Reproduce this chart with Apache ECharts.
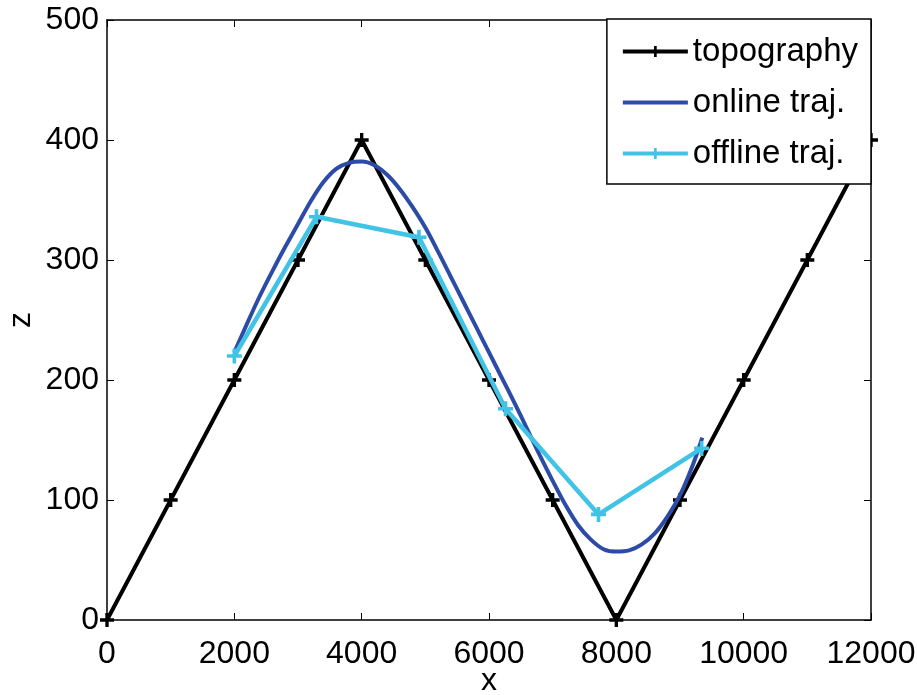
<!DOCTYPE html>
<html>
<head>
<meta charset="utf-8">
<script src="https://cdn.jsdelivr.net/npm/echarts@6/dist/echarts.min.js"></script>
<style>
  html, body { margin: 0; padding: 0; background: #fff; }
  #chart { width: 917px; height: 695px; }
</style>
</head>
<body>
<div id="chart"></div>
<script>
// topography: piecewise linear ridge
var topoX = [0, 1000, 2000, 3000, 4000, 5000, 6000, 7000, 8000, 9000, 10000, 11000, 12000];
var topoZ = [0, 100, 200, 300, 400, 300, 200, 100, 0, 100, 200, 300, 400];

// online trajectory (smooth curve)
var onlineX = [2000, 2200, 2400, 2600, 2800, 3000, 3200, 3400, 3600, 3800, 4000, 4200, 4400, 4600, 4800, 5000,
  5200, 5400, 5600, 5800, 6000, 6200, 6400, 6600, 6800, 7000, 7200, 7400, 7600, 7800, 8000, 8200, 8400, 8600,
  8800, 9000, 9200, 9350];
var onlineZ = [223, 247, 270, 291, 311, 330, 349, 365, 376, 381, 382, 379, 371, 359, 344, 327,
  307, 286, 265, 244, 223, 202, 181, 159, 137, 116, 96, 79, 67, 59, 57, 58, 63, 72,
  86, 104, 129, 152];

// offline trajectory
var offlineX = [2000, 3290, 4900, 6260, 7720, 9340];
var offlineZ = [220, 336, 319, 176, 88, 143];

function pairs(xs, ys) {
  return xs.map(function (x, i) { return [x, ys[i]]; });
}

var plus = 'path://M3.8,0 L6.2,0 L6.2,3.8 L10,3.8 L10,6.2 L6.2,6.2 L6.2,10 L3.8,10 L3.8,6.2 L0,6.2 L0,3.8 L3.8,3.8 Z';
var font = '"Liberation Sans", Arial, sans-serif';

var chart = echarts.init(document.getElementById('chart'));

var baseAxis = {
  axisLine: { show: true, onZero: false, lineStyle: { color: '#000', width: 1.5 } },
  axisTick: { show: true, inside: true, length: 7, lineStyle: { color: '#000', width: 1 } },
  splitLine: { show: false }
};

var option = {
  backgroundColor: '#fff',
  animation: false,
  grid: { left: 107, right: 46, top: 20, bottom: 75, containLabel: false, outerBoundsMode: 'none' },
  legend: {
    right: 46,
    top: 19,
    orient: 'vertical',
    backgroundColor: '#fff',
    borderColor: '#000',
    borderWidth: 1.5,
    borderRadius: 0,
    padding: [16, 13, 14, 14],
    itemGap: 18,
    itemWidth: 65,
    itemHeight: 14,
    lineStyle: { width: 4 },
    textStyle: { fontFamily: font, fontSize: 33, color: '#000' },
    data: [
      'topography',
      { name: 'online traj.', icon: 'path://M0,0 L100,0 L100,6 L0,6 Z' },
      'offline traj.'
    ]
  },
  xAxis: [
    Object.assign({}, baseAxis, {
      type: 'value', min: 0, max: 12000, interval: 2000,
      name: 'x', nameLocation: 'middle', nameGap: 45, nameMoveOverlap: false,
      nameTextStyle: { fontFamily: font, fontSize: 32, color: '#000' },
      axisLabel: { fontFamily: font, fontSize: 32, color: '#000', margin: 18,
        formatter: function (v) { return String(v); } }
    }),
    Object.assign({}, baseAxis, {
      type: 'value', min: 0, max: 12000, interval: 2000, position: 'top',
      axisLabel: { show: false }
    })
  ],
  yAxis: [
    Object.assign({}, baseAxis, {
      type: 'value', min: 0, max: 500, interval: 100,
      name: 'z', nameLocation: 'middle', nameGap: 70, nameRotate: 90, nameMoveOverlap: false,
      nameTextStyle: { fontFamily: font, fontSize: 32, color: '#000' },
      axisLabel: { fontFamily: font, fontSize: 32, color: '#000', margin: 8,
        formatter: function (v) { return String(v); } }
    }),
    Object.assign({}, baseAxis, {
      type: 'value', min: 0, max: 500, interval: 100, position: 'right',
      axisLabel: { show: false }
    })
  ],
  series: [
    {
      name: 'topography',
      type: 'line',
      data: pairs(topoX, topoZ),
      symbol: plus,
      symbolSize: 14,
      showAllSymbol: true,
      itemStyle: { color: '#000' },
      lineStyle: { color: '#000', width: 4 },
      z: 2
    },
    {
      name: 'online traj.',
      type: 'line',
      data: pairs(onlineX, onlineZ),
      smooth: 0.3,
      showSymbol: false,
      symbol: 'none',
      itemStyle: { color: '#2C4BA6' },
      lineStyle: { color: '#2C4BA6', width: 4 },
      z: 3
    },
    {
      name: 'offline traj.',
      type: 'line',
      data: pairs(offlineX, offlineZ),
      symbol: plus,
      symbolSize: 15,
      showAllSymbol: true,
      itemStyle: { color: '#41C3E6' },
      lineStyle: { color: '#41C3E6', width: 4.5 },
      z: 4
    }
  ]
};

chart.setOption(option);
</script>
</body>
</html>
